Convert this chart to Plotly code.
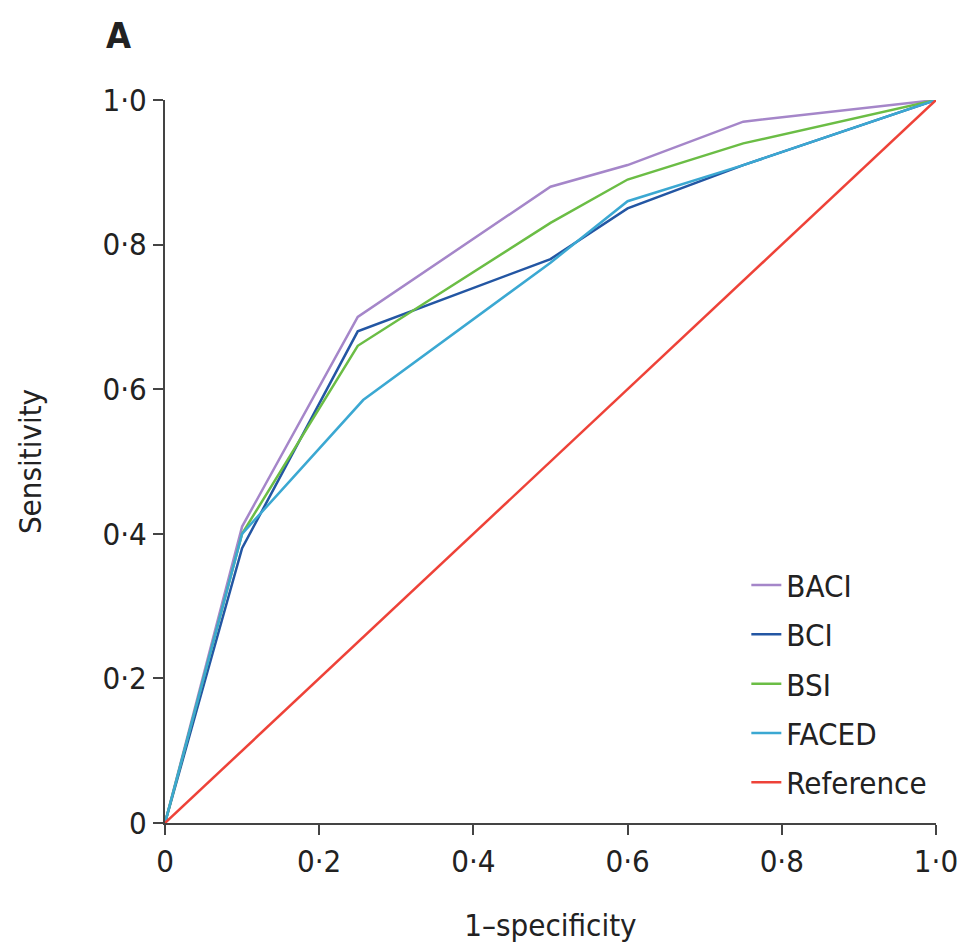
import plotly.graph_objects as go

# Data
baci_x = [0, 0.1, 0.25, 0.5, 0.6, 0.75, 1.0]
baci_y = [0, 0.41, 0.70, 0.88, 0.91, 0.97, 1.0]

bci_x = [0, 0.1, 0.25, 0.5, 0.6, 0.75, 1.0]
bci_y = [0, 0.38, 0.68, 0.78, 0.85, 0.91, 1.0]

bsi_x = [0, 0.1, 0.25, 0.5, 0.6, 0.75, 1.0]
bsi_y = [0, 0.40, 0.66, 0.83, 0.89, 0.94, 1.0]

faced_x = [0, 0.1, 0.257, 0.5, 0.6, 0.75, 1.0]
faced_y = [0, 0.40, 0.585, 0.775, 0.86, 0.91, 1.0]

ref_x = [0, 1.0]
ref_y = [0, 1.0]

tick_vals = [0, 0.2, 0.4, 0.6, 0.8, 1.0]
tick_text = ["0", "0·2", "0·4", "0·6", "0·8", "1·0"]

series = [
    ("BACI", baci_x, baci_y, "#a586c9"),
    ("BCI", bci_x, bci_y, "#2356a3"),
    ("BSI", bsi_x, bsi_y, "#6bbd45"),
    ("FACED", faced_x, faced_y, "#3ba8d2"),
    ("Reference", ref_x, ref_y, "#ee4238"),
]

FONT = "DejaVu Sans Condensed, Liberation Sans Narrow, Arial Narrow, sans-serif"

fig = go.Figure()
for name, xs, ys, col in series:
    fig.add_trace(go.Scatter(x=xs, y=ys, mode="lines", name=name, legendgroup=name,
                             line=dict(color=col, width=2.5)))

axis_common = dict(
    range=[0, 1.0], tickvals=tick_vals, ticktext=tick_text,
    showgrid=False, zeroline=False, showline=True, linecolor="#444",
    linewidth=2, ticks="outside", ticklen=10, tickwidth=2, tickcolor="#444",
    tickfont=dict(family=FONT, size=31, color="#222"), automargin=False,
)

fig.update_layout(
    width=962, height=949, autosize=False,
    margin=dict(l=165, r=26, t=100, b=126),
    plot_bgcolor="white", paper_bgcolor="white",
    font=dict(family=FONT, color="#222"),
    xaxis=dict(**axis_common,
               title=dict(text="1–specificity", font=dict(family=FONT, size=31), standoff=36)),
    yaxis=dict(**axis_common,
               title=dict(text="Sensitivity", font=dict(family=FONT, size=31), standoff=52)),
    legend=dict(x=0.754, y=0.366, xanchor="left", yanchor="top",
                font=dict(family=FONT, size=31, color="#222"),
                bgcolor="rgba(0,0,0,0)", tracegroupgap=6),
    annotations=[dict(text="<b>A</b>", x=(118 - 165) / 771, y=1 + (100 - 35) / 723,
                      xref="paper", yref="paper", xanchor="center", yanchor="middle",
                      showarrow=False, font=dict(family=FONT, size=36, color="#222"))],
)

fig.write_html("out.html", config={"displayModeBar": False},
               post_script="document.body.style.margin='0';document.body.style.overflow='hidden';")
